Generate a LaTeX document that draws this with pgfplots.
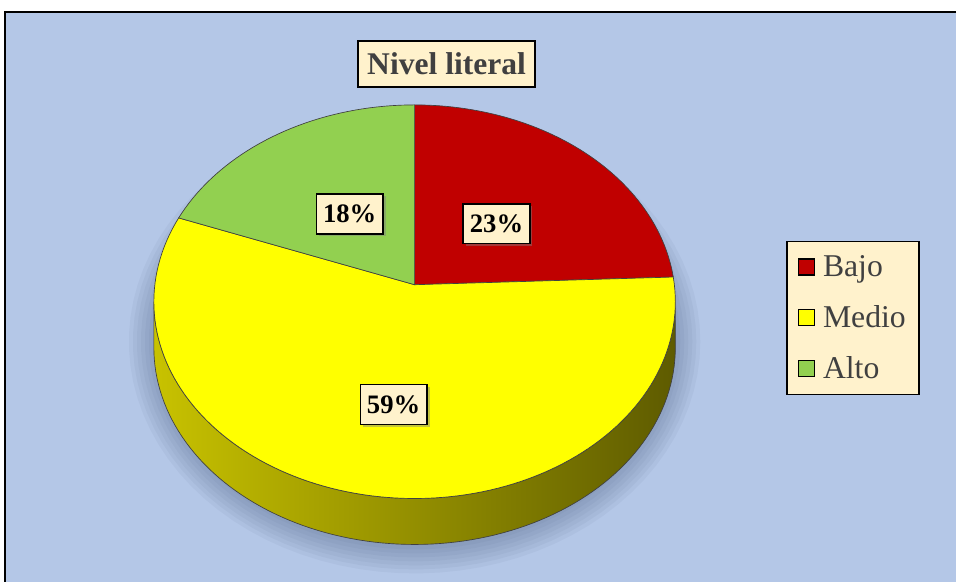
\documentclass[border=0pt]{standalone}
\usepackage{pgfplots}
\pgfplotsset{compat=1.18}
\usepackage{pgfplotstable}
\usepackage{fontspec}
\setmainfont{Liberation Serif}
\usetikzlibrary{shadows}

\definecolor{bgblue}{HTML}{B4C7E7}
\definecolor{boxbg}{HTML}{FFF2CC}
\definecolor{txtgray}{HTML}{404040}
\definecolor{cbajo}{HTML}{C00000}
\definecolor{cmedio}{HTML}{FFFF00}
\definecolor{calto}{HTML}{92D050}
\definecolor{sideL}{HTML}{C8C200}
\definecolor{sideM}{HTML}{777400}
\definecolor{sideR}{HTML}{5E5B00}
\definecolor{shadowc}{HTML}{4E5F82}

\pgfplotstableread{
nivel pct
Bajo  23
Medio 59
Alto  18
}\datatable

\begin{document}
\begin{tikzpicture}
\pgfplotstablegetelem{0}{pct}\of\datatable \let\pB\pgfplotsretval
\pgfplotstablegetelem{1}{pct}\of\datatable \let\pM\pgfplotsretval
\pgfplotstablegetelem{2}{pct}\of\datatable \let\pA\pgfplotsretval
% slice angles, clockwise from 12 o'clock
\pgfmathsetmacro\aO{90}
\pgfmathsetmacro\aB{\aO-3.6*\pB}
\pgfmathsetmacro\aM{\aB-3.6*\pM}
\pgfmathsetmacro\aA{\aM-3.6*\pA}
% pie geometry in pixels
\def\cx{415}\def\cy{302}\def\rx{261}\def\ry{197}\def\ay{285}\def\dep{46}
\begin{axis}[
    width=717.75pt, height=437.25pt, scale only axis,
    xmin=0, xmax=957, ymin=0, ymax=583, y dir=reverse,
    hide axis, clip=false,
    declare function={pa(\t)=(\t<=360)*\t+(\t>360)*(720-\t);},
    legend cell align=left,
    legend style={at={(axis cs:787,241)}, anchor=north west,
        fill=boxbg, draw=black, line width=1pt,
        font=\fontsize{23.8}{26}\selectfont\color{txtgray},
        row sep=16.3pt, inner xsep=8pt, inner ysep=8.5pt,
        /tikz/every odd column/.append style={column sep=4pt}},
    legend image code/.code={\draw[#1, draw=black, line width=1.1pt] (0pt,-6pt) rectangle (12pt,6pt);},
]
% background
\fill[white] (0,0) rectangle (957,583);
\fill[bgblue] (5,12) rectangle (957,583);
\draw[line width=1.4pt] (957,12) -- (5,12) -- (5,583);

% soft shadow under the pie
\foreach \k in {0,...,8}{
  \pgfmathsetmacro\sx{286-4*\k}
  \pgfmathsetmacro\sy{232-4*\k}
  \addplot[forget plot, fill=shadowc, draw=none, fill opacity=0.065, domain=0:360, samples=90, variable=\t]
    ({\cx+\sx*cos(\t)},{342-\sy*sin(\t)});
}

% side of the pie
\addplot[forget plot, left color=sideL, middle color=sideM, right color=sideR, draw=txtgray, line width=0.5pt,
    domain=180:540, samples=201, variable=\t]
  ({\cx+\rx*cos(pa(\t))},{\cy-\ry*sin(pa(\t))+(\t<=360)*\dep}) -- cycle;

% slices
\addplot[forget plot, fill=cbajo, draw=txtgray, line width=0.5pt, domain=\aB:\aO, samples=60, variable=\t]
  ({\cx+\rx*cos(\t)},{\cy-\ry*sin(\t)}) -- (\cx,\ay) -- cycle;
\addplot[forget plot, fill=cmedio, draw=txtgray, line width=0.5pt, domain=\aM:\aB, samples=120, variable=\t]
  ({\cx+\rx*cos(\t)},{\cy-\ry*sin(\t)}) -- (\cx,\ay) -- cycle;
\addplot[forget plot, fill=calto, draw=txtgray, line width=0.5pt, domain=\aA:\aM, samples=40, variable=\t]
  ({\cx+\rx*cos(\t)},{\cy-\ry*sin(\t)}) -- (\cx,\ay) -- cycle;

% data labels
\tikzset{lbl/.style={fill=boxbg, draw=black, line width=1.1pt, text=black,
    font=\fontsize{20}{22}\selectfont\bfseries, inner xsep=5pt, minimum height=30pt,
    drop shadow={opacity=0.45, shadow xshift=2pt, shadow yshift=-2pt}}}
\node[lbl] at (497,224) {\pB\%};
\node[lbl] at (350,214) {\pA\%};
\node[lbl] at (394,405) {\pM\%};

% title
\node[fill=boxbg, draw=black, line width=1.4pt, text=txtgray,
    font=\fontsize{23.7}{26}\selectfont\bfseries, inner xsep=7pt, minimum height=34.5pt]
  at (447,64) {Nivel literal};

\addlegendimage{fill=cbajo}\addlegendentry{Bajo}
\addlegendimage{fill=cmedio}\addlegendentry{Medio}
\addlegendimage{fill=calto}\addlegendentry{Alto}
\end{axis}
\end{tikzpicture}
\end{document}
